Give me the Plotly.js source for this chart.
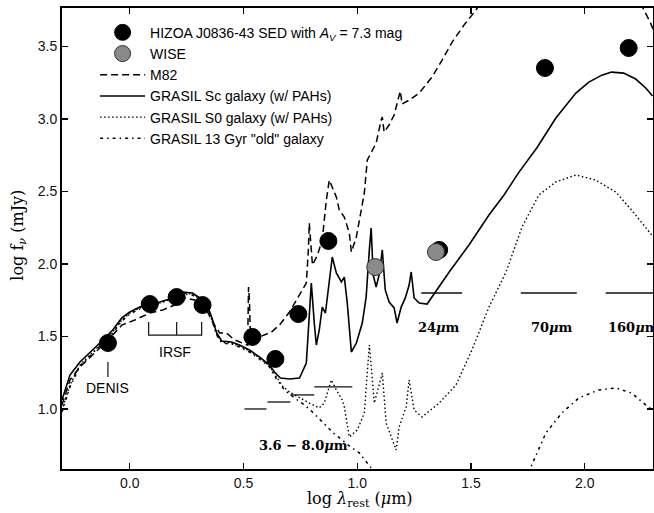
<!DOCTYPE html>
<html>
<head>
<meta charset="utf-8">
<script src="https://cdn.plot.ly/plotly-3.0.1.min.js"></script>
<style>html,body{margin:0;padding:0;background:#fff;}#chart{width:654px;height:513px;}</style>
</head>
<body>
<div id="chart"></div>
<script>
// ---- Photometry (log lambda_rest [um], log f_nu [mJy]) ----
var sedX = [-0.096, 0.088, 0.206, 0.320, 0.539, 0.640, 0.741, 0.873, 1.360, 1.825, 2.193];
var sedY = [1.455, 1.724, 1.772, 1.717, 1.497, 1.345, 1.655, 2.159, 2.097, 3.352, 3.490];
var wiseX = [1.079, 1.346];
var wiseY = [1.979, 2.083];

// ---- M82 template ----
var m82X = [-0.298,-0.263,-0.219,-0.162,-0.118,-0.075,-0.035,0.022,0.088,0.145,0.197,0.241,0.285,0.329,0.364,0.395,0.425,0.461,0.504,0.518,0.522,0.526,0.531,0.548,0.579,0.623,0.658,0.702,0.746,0.776,0.785,0.789,0.803,0.825,0.846,0.864,0.877,0.908,0.921,0.943,0.965,0.974,0.996,1.009,1.031,1.044,1.061,1.083,1.105,1.110,1.118,1.140,1.162,1.184,1.189,1.197,1.228,1.272,1.329,1.373,1.417,1.469,1.522,1.540,null,2.245,2.270,2.290,2.310];
var m82Y = [1.028,1.200,1.290,1.372,1.441,1.510,1.579,1.614,1.662,1.683,1.717,1.766,1.752,1.710,1.600,1.524,1.524,1.476,1.448,1.441,1.841,1.752,1.441,1.462,1.503,1.531,1.579,1.669,1.786,1.869,2.097,2.283,1.993,2.062,2.166,2.441,2.579,2.462,2.372,2.324,2.214,2.083,2.186,2.303,2.490,2.717,2.766,2.834,2.993,3.014,2.910,2.959,3.028,3.166,3.193,3.103,3.131,3.179,3.290,3.407,3.531,3.648,3.752,3.800,null,3.800,3.720,3.660,3.580];

// ---- GRASIL Sc (w/ PAHs) ----
var scX = [-0.298,-0.263,-0.219,-0.162,-0.118,-0.075,-0.035,0.000,0.044,0.088,0.132,0.175,0.206,0.232,0.276,0.320,0.338,0.364,0.382,0.404,0.447,0.482,0.526,0.570,0.614,0.636,0.662,0.702,0.746,0.776,0.789,0.798,0.811,0.820,0.833,0.846,0.860,0.868,0.890,0.908,0.930,0.943,0.956,0.974,0.996,1.022,1.039,1.053,1.061,1.070,1.083,1.096,1.110,1.123,1.140,1.162,1.175,1.193,1.211,1.228,1.237,1.250,1.272,1.307,1.325,1.404,1.491,1.579,1.645,1.711,1.789,1.873,1.961,2.018,2.075,2.118,2.171,2.224,2.268,2.298];
var scY = [1.062,1.234,1.324,1.407,1.476,1.545,1.628,1.669,1.703,1.731,1.738,1.759,1.779,1.807,1.800,1.752,1.731,1.614,1.524,1.469,1.462,1.441,1.407,1.359,1.303,1.255,1.214,1.207,1.214,1.317,1.634,1.869,1.593,1.441,1.545,1.703,1.662,1.772,2.048,1.938,1.876,1.910,1.731,1.393,1.455,1.593,1.772,2.097,2.248,1.924,1.841,1.924,2.097,1.821,1.738,1.697,1.593,1.703,1.766,1.855,1.945,1.766,1.731,1.724,1.766,1.945,2.131,2.338,2.476,2.634,2.800,3.007,3.179,3.255,3.303,3.324,3.317,3.276,3.214,3.159];

// ---- GRASIL S0 (w/ PAHs) ----
var s0X = [-0.298,-0.263,-0.219,-0.162,-0.118,-0.075,-0.035,0.000,0.044,0.088,0.132,0.175,0.206,0.232,0.276,0.320,0.338,0.364,0.382,0.404,0.447,0.482,0.526,0.570,0.614,0.645,0.671,0.702,0.746,0.789,0.833,0.855,0.886,0.908,0.934,0.943,0.965,1.000,1.031,1.053,1.075,1.110,1.127,1.154,1.171,1.184,1.215,1.228,1.250,1.285,1.360,1.434,1.504,1.579,1.654,1.724,1.798,1.873,1.961,2.048,2.136,2.206,2.268,2.298];
var s0Y = [0.993,1.166,1.303,1.393,1.462,1.531,1.614,1.662,1.697,1.717,1.731,1.752,1.772,1.800,1.793,1.745,1.724,1.607,1.517,1.462,1.455,1.434,1.400,1.352,1.297,1.221,1.159,1.117,1.076,1.041,1.007,1.041,1.200,1.131,1.062,1.014,0.807,0.855,0.972,1.441,1.041,1.248,0.903,0.786,0.717,0.876,1.014,1.200,0.993,0.945,1.041,1.166,1.407,1.703,1.945,2.255,2.476,2.566,2.614,2.579,2.497,2.372,2.248,2.193];

// ---- GRASIL 13 Gyr "old" galaxy ----
var oldX = [-0.298,-0.263,-0.219,-0.162,-0.118,-0.075,-0.035,0.000,0.044,0.088,0.132,0.175,0.206,0.232,0.276,0.320,0.338,0.364,0.382,0.404,0.447,0.482,0.526,0.570,0.614,0.645,0.680,0.724,0.768,0.803,0.833,0.868,0.899,0.934,0.965,1.009,1.044,1.075,null,1.755,1.763,1.829,1.899,1.974,2.061,2.136,2.206,2.268,2.298];
var oldY = [0.979,1.152,1.297,1.386,1.455,1.524,1.607,1.655,1.690,1.717,1.731,1.752,1.766,1.793,1.786,1.738,1.717,1.600,1.510,1.455,1.448,1.428,1.393,1.345,1.290,1.207,1.131,1.076,1.028,0.979,0.931,0.876,0.828,0.786,0.745,0.697,0.628,0.566,null,0.560,0.600,0.834,0.972,1.076,1.131,1.145,1.110,1.028,0.993];

// ---- Filter bandwidths (IRAC 3.6-8.0um, MIPS 24/70/160um) ----
var filterStart = [0.504, 0.605, 0.706, 0.811, 1.281, 1.719, 2.092];
var filterEnd   = [0.601, 0.706, 0.811, 0.978, 1.461, 1.965, 2.350];
var filterLevel = [1.000, 1.048, 1.097, 1.152, 1.800, 1.800, 1.800];

// ---- IRSF / DENIS markers ----
var irsfX = [0.083, 0.206, 0.316];
var irsfTop = 1.600, irsfBase = 1.510;
var denisX = -0.096, denisTop = 1.324, denisBottom = 1.221;

// ---- Tick labels ----
var xTicks = [0.0, 0.5, 1.0, 1.5, 2.0];
var xTickText = ["0.0", "0.5", "1.0", "1.5", "2.0"];
var yTicks = [1.0, 1.5, 2.0, 2.5, 3.0, 3.5];
var yTickText = ["1.0", "1.5", "2.0", "2.5", "3.0", "3.5"];

// build helper line data
var fx = [], fy = [];
for (var i = 0; i < filterStart.length; i++) {
  fx.push(filterStart[i], filterEnd[i], null);
  fy.push(filterLevel[i], filterLevel[i], null);
}
var bx = [irsfX[0], irsfX[0], irsfX[2], irsfX[2], null, irsfX[1], irsfX[1], null, denisX, denisX];
var by = [irsfTop, irsfBase, irsfBase, irsfTop, null, irsfBase, irsfTop, null, denisTop, denisBottom];

var SANS = "Liberation Sans, Arial, sans-serif";
var SERIF = "DejaVu Serif, serif";

var traces = [
  {x: fx, y: fy, mode: 'lines', line: {color: '#111', width: 1.3}, showlegend: false, hoverinfo: 'skip'},
  {x: bx, y: by, mode: 'lines', line: {color: '#111', width: 1.2}, showlegend: false, hoverinfo: 'skip'},
  {x: m82X, y: m82Y, mode: 'lines', name: 'M82', legendrank: 3,
   line: {color: 'black', width: 1.5, dash: '7px,4px'}},
  {x: scX, y: scY, mode: 'lines', name: 'GRASIL Sc galaxy (w/ PAHs)', legendrank: 4,
   line: {color: 'black', width: 1.6}},
  {x: s0X, y: s0Y, mode: 'lines', name: 'GRASIL S0 galaxy (w/ PAHs)', legendrank: 5,
   line: {color: 'black', width: 1.4, dash: '1.5px,2.5px'}},
  {x: oldX, y: oldY, mode: 'lines', name: 'GRASIL 13 Gyr "old" galaxy', legendrank: 6,
   line: {color: 'black', width: 1.5, dash: '3px,4px,1.5px,4px'}},
  {x: sedX, y: sedY, mode: 'markers', name: 'HIZOA J0836-43 SED with <i>A<sub>V</sub></i> = 7.3 mag', legendrank: 1,
   marker: {color: 'black', size: 17, line: {color: 'black', width: 1}}},
  {x: wiseX, y: wiseY, mode: 'markers', name: 'WISE', legendrank: 2,
   marker: {color: '#8a8a8a', size: 17, line: {color: '#333', width: 1}}}
];

var layout = {
  width: 654, height: 513,
  margin: {l: 62, r: 1, t: 8, b: 44},
  paper_bgcolor: 'white', plot_bgcolor: 'white',
  font: {family: SANS, size: 14, color: 'black'},
  showlegend: true,
  legend: {x: 0.056, y: 0.981, xanchor: 'left', yanchor: 'top', bgcolor: 'rgba(0,0,0,0)',
           borderwidth: 0, font: {family: SANS, size: 14, color: 'black'}, itemwidth: 45, tracegroupgap: 0},
  xaxis: {range: [-0.298, 2.3], showgrid: false, zeroline: false, showline: true, linecolor: 'black', linewidth: 2,
          mirror: 'ticks', ticks: 'inside', ticklen: 6, tickwidth: 1.2, tickcolor: 'black',
          tickvals: xTicks, ticktext: xTickText, tickfont: {family: SANS, size: 14, color: '#111'}},
  yaxis: {range: [0.586, 3.766], showgrid: false, zeroline: false, showline: true, linecolor: 'black', linewidth: 2,
          mirror: 'ticks', ticks: 'inside', ticklen: 6, tickwidth: 1.2, tickcolor: 'black',
          tickvals: yTicks, ticktext: yTickText, tickfont: {family: SANS, size: 14, color: '#111'}},
  annotations: [
    {xref: 'x', yref: 'y', x: denisX, y: 1.145, text: 'DENIS', showarrow: false, xanchor: 'center', yanchor: 'middle', font: {family: SANS, size: 14}},
    {xref: 'x', yref: 'y', x: 0.197, y: 1.393, text: 'IRSF', showarrow: false, xanchor: 'center', yanchor: 'middle', font: {family: SANS, size: 14}},
    {xref: 'x', yref: 'y', x: 1.360, y: 1.559, text: '<b>24<i>μ</i>m</b>', showarrow: false, xanchor: 'center', yanchor: 'middle', font: {family: SERIF, size: 13}},
    {xref: 'x', yref: 'y', x: 1.855, y: 1.559, text: '<b>70<i>μ</i>m</b>', showarrow: false, xanchor: 'center', yanchor: 'middle', font: {family: SERIF, size: 13}},
    {xref: 'x', yref: 'y', x: 2.092, y: 1.559, xanchor: 'left', yanchor: 'middle', text: '<b>160<i>μ</i>m</b>', showarrow: false, font: {family: SERIF, size: 13}},
    {xref: 'x', yref: 'y', x: 0.561, y: 0.745, xanchor: 'left', yanchor: 'middle', text: '<b>3.6 − 8.0<i>μ</i>m</b>', showarrow: false, font: {family: SERIF, size: 13}},
    {xref: 'paper', yref: 'paper', x: -0.073, y: 0.508, xanchor: 'center', yanchor: 'middle', text: 'log f<sub><i>ν</i></sub> (mJy)', textangle: -90,
     showarrow: false, font: {family: SERIF, size: 16}},
    {xref: 'paper', yref: 'paper', x: 0.505, y: -0.067, xanchor: 'center', yanchor: 'middle', text: 'log <i>λ</i><sub>rest</sub> (<i>μ</i>m)',
     showarrow: false, font: {family: SERIF, size: 16}}
  ]
};

Plotly.newPlot('chart', traces, layout, {displayModeBar: false, staticPlot: true});
</script>
</body>
</html>
